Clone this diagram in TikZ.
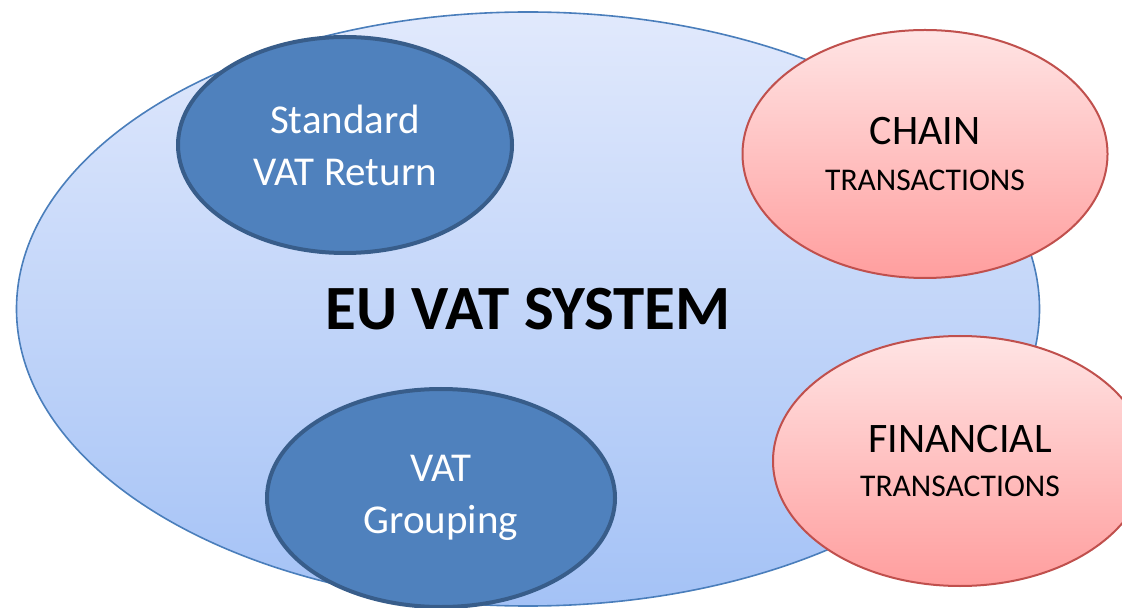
\documentclass[tikz,border=0pt]{standalone}
\usepackage{fontspec}
\setmainfont{Carlito}
\usetikzlibrary{shapes.geometric}

\definecolor{sysTop}{RGB}{225,233,252}
\definecolor{sysBottom}{RGB}{164,194,246}
\definecolor{sysLine}{RGB}{74,126,187}
\definecolor{blueFill}{RGB}{79,129,189}
\definecolor{blueLine}{RGB}{56,93,138}
\definecolor{redTop}{RGB}{255,228,228}
\definecolor{redBottom}{RGB}{255,158,158}
\definecolor{redLine}{RGB}{192,80,77}

\begin{document}
\begin{tikzpicture} [x=0.5pt,y=-0.5pt,
	system node/.style={ellipse,inner sep=0pt,draw=sysLine,line width=0.8pt,
		top color=sysTop,bottom color=sysBottom,
		font=\fontsize{31.5}{36}\selectfont\bfseries},
	blue node/.style={ellipse,inner sep=0pt,draw=blueLine,line width=2pt,fill=blueFill,
		text=white,align=center,font=\fontsize{20.5}{26}\selectfont},
	red node/.style={ellipse,inner sep=0pt,draw=redLine,line width=1pt,
		top color=redTop,bottom color=redBottom,
		align=center,font=\fontsize{21}{22}\selectfont}]

	\clip (0,0) rectangle (1122,608);
	\useasboundingbox (0,0) rectangle (1122,608);

	\node[system node,minimum width=511.5pt,minimum height=297pt] (0) at (528,309) {EU VAT SYSTEM};
	\node[blue node,minimum width=167pt,minimum height=108pt] (1) at (345,145) {Standard\\VAT Return};
	\node[blue node,minimum width=174pt,minimum height=109pt] (2) at (441,498) {VAT\\Grouping};
	\node[red node,minimum width=182.5pt,minimum height=124pt] (3) at (925,154)
		{CHAIN\\[1pt]{\fontsize{15.8}{19}\selectfont TRANSACTIONS}};
	\node[red node,minimum width=187pt,minimum height=125pt] (4) at (960,461)
		{FINANCIAL\\{\fontsize{15.8}{19}\selectfont TRANSACTIONS}};
\end{tikzpicture}
\end{document}
